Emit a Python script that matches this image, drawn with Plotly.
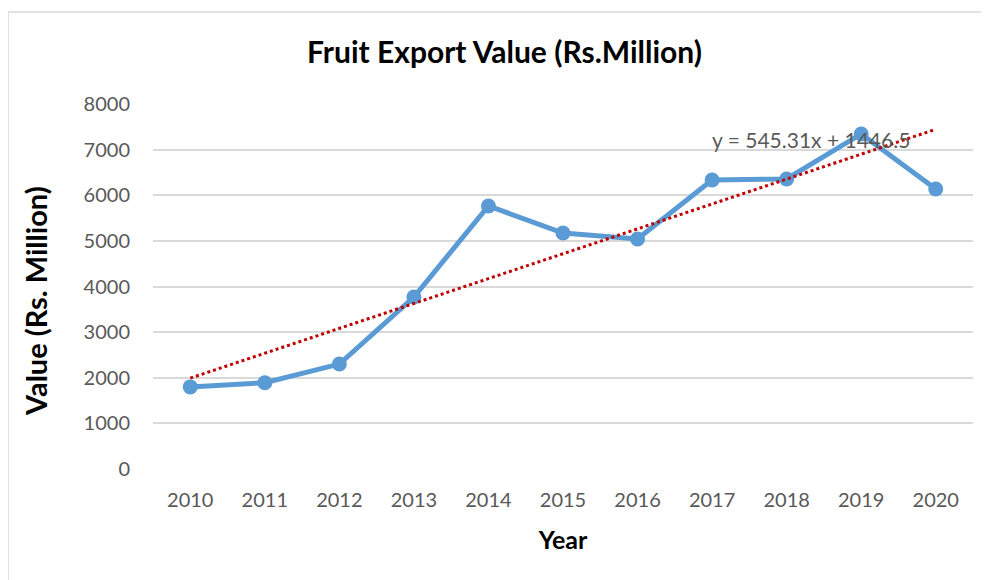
import plotly.graph_objects as go

years = ["2010", "2011", "2012", "2013", "2014", "2015", "2016", "2017", "2018", "2019", "2020"]
values = [1800, 1890, 2300, 3770, 5765, 5173, 5042, 6335, 6357, 7343, 6137]
trend_slope = 545.31
trend_intercept = 1446.5
y_ticks = [0, 1000, 2000, 3000, 4000, 5000, 6000, 7000, 8000]

trend = [trend_slope * (i + 1) + trend_intercept for i in range(len(years))]

FONT = "Lato"

fig = go.Figure()
fig.add_trace(go.Scatter(
    x=years, y=values, mode="lines+markers",
    line=dict(color="#5B9BD5", width=5),
    marker=dict(color="#5B9BD5", size=15),
    showlegend=False,
))
fig.add_trace(go.Scatter(
    x=years, y=trend, mode="lines",
    line=dict(color="#C00000", width=3, dash="dot"),
    showlegend=False,
))

fig.add_annotation(
    x=6.97, y=7220, xref="x", yref="y", xanchor="left", yanchor="middle",
    text=f"y = {trend_slope}x + {trend_intercept}", showarrow=False,
    font=dict(family=FONT, size=21, color="#595959"),
)

# y axis title (placed slightly below plot centre, as in the original)
fig.add_annotation(
    x=(35 - 153) / 820, y=(469 - 301) / 365, xref="paper", yref="paper",
    xanchor="center", yanchor="middle", textangle=-90,
    text="<b>Value (Rs. Million)</b>", showarrow=False,
    font=dict(family=FONT, size=29, color="black"),
)

# chart border (left and top edges visible)
fig.add_shape(type="line", xref="paper", yref="paper",
              x0=-0.1768, x1=1.2, y0=1.252, y1=1.252,
              line=dict(color="#D9D9D9", width=1.5))
fig.add_shape(type="line", xref="paper", yref="paper",
              x0=-0.1768, x1=-0.1768, y0=1.252, y1=-0.4,
              line=dict(color="#D9D9D9", width=1.5))

fig.update_layout(
    width=989, height=580,
    margin=dict(l=145, r=24, t=96, b=119),
    paper_bgcolor="white", plot_bgcolor="white",
    title=dict(text="<b>Fruit Export Value (Rs.Million)</b>", x=(504.5 - 8) / 989, xanchor="center",
               y=1 - 44 / 580, yanchor="middle",
               font=dict(family=FONT, size=30, color="black")),
    font=dict(family=FONT, color="#595959"),
)
fig.update_xaxes(
    type="category", range=[-0.5, 10.5],
    showgrid=False, zeroline=False, showline=False,
    ticks="", tickfont=dict(family=FONT, size=20, color="#595959"),
    ticklabelstandoff=17,
    title=dict(text="<b>Year</b>", font=dict(family=FONT, size=25, color="black"), standoff=21),
)
fig.update_yaxes(
    range=[0, 8000], tickvals=y_ticks,
    showgrid=True, gridcolor="#D9D9D9", gridwidth=1.5,
    zeroline=False, showline=False, ticks="",
    tickfont=dict(family=FONT, size=20, color="#595959"),
    ticklabelstandoff=22,
)

fig.write_html("out.html")
